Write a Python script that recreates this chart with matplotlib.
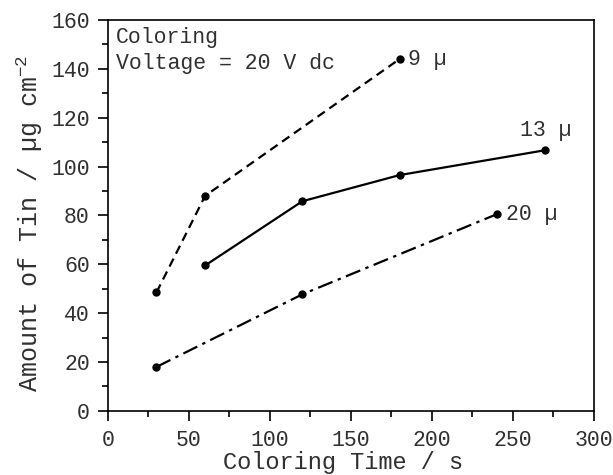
import matplotlib
matplotlib.use("Agg")
import matplotlib.pyplot as plt
from matplotlib.ticker import MultipleLocator

plt.rcParams['font.family'] = ['Liberation Mono', 'DejaVu Sans Mono']
plt.rcParams['mathtext.fontset'] = 'custom'
plt.rcParams['mathtext.rm'] = 'Liberation Mono'

x_9 = [30, 60, 180]
y_9 = [48.5, 88, 144]
x_13 = [60, 120, 180, 270]
y_13 = [59.5, 85.8, 96.5, 106.7]
x_20 = [30, 120, 240]
y_20 = [18, 47.7, 80.5]
series_labels = ["9 µ", "13 µ", "20 µ"]

fig = plt.figure(figsize=(6.13, 4.75), dpi=100)
ax = fig.add_axes([0.176, 0.135, 0.793, 0.823])

ax.plot(x_9, y_9, color='black', linestyle=(0, (4, 2.5)), lw=1.6, marker='o', ms=5)
ax.plot(x_13, y_13, color='black', linestyle='-', lw=1.6, marker='o', ms=5)
ax.plot(x_20, y_20, color='black', linestyle=(0, (7, 2.5, 1.5, 2.5)), lw=1.6, marker='o', ms=5)

fs = 15.5
tc = '#303030'
ax.text(x_9[-1] + 5, y_9[-1], series_labels[0], fontsize=fs, va='center', ha='left', color=tc)
ax.text(x_13[-1], y_13[-1] + 8, series_labels[1], fontsize=fs, va='center', ha='center', color=tc)
ax.text(x_20[-1] + 5.5, y_20[-1], series_labels[2], fontsize=fs, va='center', ha='left', color=tc)

ax.text(5, 153, "Coloring", fontsize=fs, va='center', ha='left', color=tc)
ax.text(5, 142, "Voltage = 20 V dc", fontsize=fs, va='center', ha='left', color=tc)

ax.set_xlim(0, 300)
ax.set_ylim(0, 160)
ax.xaxis.set_major_locator(MultipleLocator(50))
ax.xaxis.set_minor_locator(MultipleLocator(25))
ax.yaxis.set_major_locator(MultipleLocator(20))
ax.yaxis.set_minor_locator(MultipleLocator(10))
ax.tick_params(which='both', direction='out', top=False, right=False, width=1.2,
               labelsize=fs, colors='black', labelcolor=tc)
ax.tick_params(which='major', length=7)
ax.tick_params(which='minor', length=4.5)
ax.tick_params(axis='x', which='major', pad=7)
ax.tick_params(axis='y', which='major', pad=6)
for s in ax.spines.values():
    s.set_linewidth(1.2)

ax.set_xlabel("Coloring Time / s", fontsize=17, color=tc, va='center')
ax.set_ylabel("Amount of Tin / µg cm$^{-2}$", fontsize=18, color=tc, va='center')
ax.xaxis.set_label_coords((343 - 108) / 486, (411 - 463) / 391)
ax.yaxis.set_label_coords((30 - 108) / 486, (411 - 224) / 391)

fig.savefig("out.png", dpi=100)
